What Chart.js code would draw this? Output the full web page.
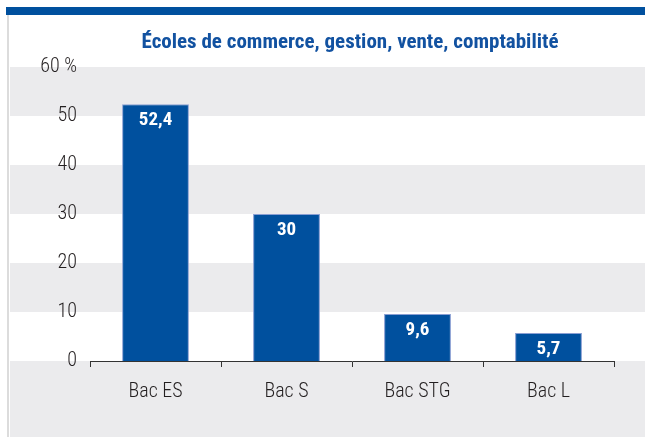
<!DOCTYPE html>
<html>
<head>
<meta charset="utf-8">
<script src="https://cdn.jsdelivr.net/npm/chart.js@4/dist/chart.umd.min.js"></script>
<style>
  html, body { margin: 0; padding: 0; background: #fff; }
  #wrap { width: 645px; height: 437px; position: relative; }
</style>
</head>
<body>
<div id="wrap"><canvas id="chart" width="645" height="437"></canvas></div>
<script>
const titleText = 'Écoles de commerce, gestion, vente, comptabilité';
const categories = ['Bac ES', 'Bac S', 'Bac STG', 'Bac L'];
const shares = [52.4, 30, 9.6, 5.7];
const yTicks = [0, 10, 20, 30, 40, 50, 60];

const FONT = "'Roboto Condensed', 'Liberation Sans Narrow', sans-serif";
const BLUE = '#00509e';
const BAND = '#ebebed';

// background: frame, top band, alternating stripes
const backdrop = {
    id: 'backdrop',
    beforeDraw(chart) {
        const ctx = chart.ctx;
        const y = chart.scales.y;
        const W = chart.width, H = chart.height;
        ctx.save();
        ctx.fillStyle = '#fff';
        ctx.fillRect(0, 0, W, H);
        ctx.fillStyle = BAND;
        for (let v = 60; v > 0; v -= 20) {
            const top = y.getPixelForValue(v);
            const bot = y.getPixelForValue(v - 10);
            ctx.fillRect(10, top, W - 10, bot - top);
        }
        const zero = y.getPixelForValue(0);
        ctx.fillRect(10, zero, W - 10, H - zero);
        // left frame line
        ctx.fillStyle = '#dcdcdc';
        ctx.fillRect(7, 15, 2, H - 15);
        // top band
        ctx.fillStyle = BLUE;
        ctx.fillRect(6, 7, W - 6, 8);
        // title
        ctx.fillStyle = '#1252a1';
        ctx.font = "bold 21px " + FONT;
        ctx.textAlign = 'center';
        ctx.textBaseline = 'middle';
        ctx.fillText(titleText, 350, 43);
        ctx.restore();
    },
    afterDatasetsDraw(chart) {
        const ctx = chart.ctx;
        const meta = chart.getDatasetMeta(0);
        ctx.save();
        ctx.fillStyle = '#fff';
        ctx.font = "bold 19px " + FONT;
        ctx.textAlign = 'center';
        ctx.textBaseline = 'middle';
        meta.data.forEach((bar, i) => {
            const label = String(shares[i]).replace('.', ',');
            ctx.fillText(label, bar.x, bar.y + 16);
        });
        ctx.restore();
    }
};

new Chart(document.getElementById('chart'), {
    type: 'bar',
    data: {
        labels: categories,
        datasets: [{
            data: shares,
            backgroundColor: BLUE,
            borderColor: '#8a9fd3',
            borderWidth: 1,
            categoryPercentage: 1,
            barPercentage: 0.51
        }]
    },
    options: {
        responsive: false,
        animation: false,
        layout: { padding: { top: 67, right: 31, left: 10, bottom: 0 } },
        plugins: { legend: { display: false }, tooltip: { enabled: false } },
        scales: {
            x: {
                offset: true,
                grid: { offset: true, drawOnChartArea: false, color: '#333', tickLength: 6, lineWidth: 1 },
                border: { display: true, color: '#333', width: 1 },
                ticks: { color: '#231f20', font: { family: FONT, size: 20, weight: 300 }, padding: 13 },
                afterFit(scale) { scale.height = 76; }
            },
            y: {
                min: 0,
                max: 60,
                afterBuildTicks(scale) { scale.ticks = yTicks.map(v => ({ value: v })); },
                grid: { display: false },
                border: { display: false },
                ticks: {
                    color: '#231f20',
                    font: { family: FONT, size: 20, weight: 300 },
                    padding: 5,
                    callback: v => v === 60 ? '60 %' : String(v)
                },
                afterFit(scale) { scale.width = 80; }
            }
        }
    },
    plugins: [backdrop]
});
</script>
</body>
</html>
